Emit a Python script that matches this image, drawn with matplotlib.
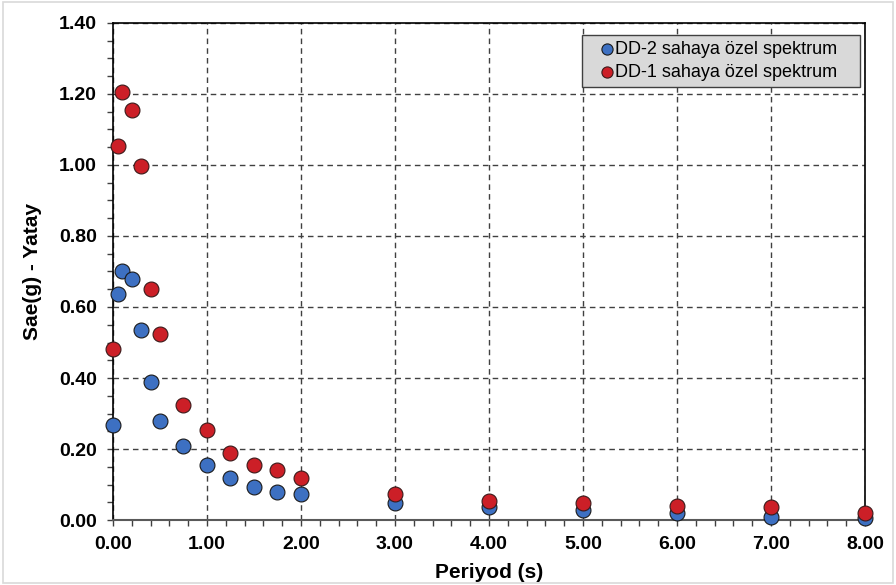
import numpy as np
import matplotlib.pyplot as plt
from matplotlib.patches import Rectangle
from matplotlib.ticker import MultipleLocator, FormatStrFormatter

plt.rcParams['font.family'] = ['Liberation Sans', 'DejaVu Sans']

# Periyod (s)
periyod = [0.0, 0.05, 0.1, 0.2, 0.3, 0.4, 0.5, 0.75, 1.0, 1.25, 1.5, 1.75, 2.0,
           3.0, 4.0, 5.0, 6.0, 7.0, 8.0]

# Sae(g) - yatay spektrum degerleri
sae_dd2 = [0.267, 0.638, 0.700, 0.680, 0.534, 0.388, 0.278, 0.208, 0.155, 0.118,
           0.093, 0.078, 0.073, 0.048, 0.036, 0.027, 0.019, 0.008, 0.007]
sae_dd1 = [0.481, 1.054, 1.206, 1.155, 0.998, 0.652, 0.523, 0.323, 0.253, 0.188,
           0.155, 0.140, 0.118, 0.073, 0.053, 0.047, 0.039, 0.036, 0.020]

etiket_dd2 = "DD-2 sahaya özel spektrum"
etiket_dd1 = "DD-1 sahaya özel spektrum"

fig = plt.figure(figsize=(8.96, 5.85), dpi=100)
ax = fig.add_axes([0.126, 0.1111, 0.8394, 0.8496])

# cerceve (figur kenari)
fig.patches.append(Rectangle((0.003, 0.004), 0.994, 0.992, transform=fig.transFigure,
                             fill=False, edgecolor='#d9d9d9', lw=1.2))

ax.scatter(periyod, sae_dd2, s=115, color='#3d70c2', edgecolor='#1a1a1a',
           linewidth=0.8, zorder=3, clip_on=False, label=etiket_dd2)
ax.scatter(periyod, sae_dd1, s=115, color='#cc1f27', edgecolor='#3a1a1a',
           linewidth=0.8, zorder=4, clip_on=False, label=etiket_dd1)

ax.set_xlim(0, 8)
ax.set_ylim(0, 1.4)
ax.xaxis.set_major_locator(MultipleLocator(1.0))
ax.xaxis.set_minor_locator(MultipleLocator(0.2))
ax.yaxis.set_major_locator(MultipleLocator(0.2))
ax.yaxis.set_minor_locator(MultipleLocator(0.05))
ax.xaxis.set_major_formatter(FormatStrFormatter('%.2f'))
ax.yaxis.set_major_formatter(FormatStrFormatter('%.2f'))

ax.grid(True, which='major', linestyle=(0, (4, 3)), color='#404040', lw=1.0, zorder=1)

ax.tick_params(which='both', direction='out', length=4.5, width=1.0, color='#404040')
ax.tick_params(axis='both', which='major', labelsize=14, pad=7)
for lab in ax.get_xticklabels() + ax.get_yticklabels():
    lab.set_fontweight('bold')

for side in ['left', 'top', 'right']:
    ax.spines[side].set_color('black')
    ax.spines[side].set_linewidth(1.2)
ax.spines['bottom'].set_color('#595959')
ax.spines['bottom'].set_linewidth(1.5)

ax.set_xlabel("Periyod (s)", fontsize=15, fontweight='bold', labelpad=7)
ax.set_ylabel("Sae(g) - Yatay", fontsize=15, fontweight='bold', labelpad=12)

# gri kutulu lejant, sag ust
leg = ax.legend(loc='upper right', bbox_to_anchor=(0.6237, 0.5, 0.3697, 0.476),
                mode='expand', fontsize=13,
                frameon=True, fancybox=False, facecolor='#d9d9d9', edgecolor='#404040',
                framealpha=1, handlelength=2.07, handletextpad=-0.59, markerscale=0.75,
                borderpad=0.35, labelspacing=0.3, borderaxespad=0)
leg.get_frame().set_linewidth(1.0)

fig.savefig("out.png", dpi=100)
